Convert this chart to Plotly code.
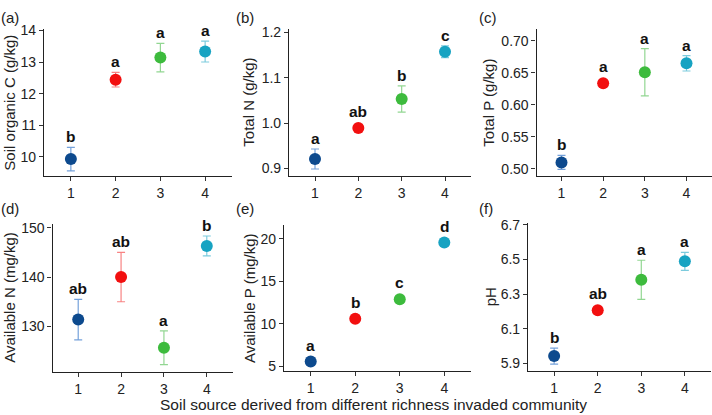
import plotly.graph_objects as go

# ---------------- data ----------------
groups = ["1", "2", "3", "4"]
group_x = [1, 2, 3, 4]

soc_mean = [9.93, 12.44, 13.14, 13.33]
soc_se = [0.37, 0.23, 0.45, 0.33]
soc_letters = ["b", "a", "a", "a"]

tn_mean = [0.921, 0.989, 1.053, 1.157]
tn_se = [0.022, 0.003, 0.029, 0.013]
tn_letters = ["a", "ab", "b", "c"]

tp_mean = [0.510, 0.634, 0.651, 0.665]
tp_se = [0.011, 0.003, 0.037, 0.012]
tp_letters = ["b", "a", "a", "a"]

an_mean = [131.4, 140.0, 125.7, 146.3]
an_se = [4.1, 5.0, 3.4, 2.0]
an_letters = ["ab", "ab", "a", "b"]

ap_mean = [5.57, 10.6, 12.9, 19.55]
ap_se = [0.2, 0.2, 0.2, 0.2]
ap_letters = ["a", "b", "c", "d"]

ph_mean = [5.943, 6.207, 6.383, 6.49]
ph_se = [0.046, 0.005, 0.113, 0.052]
ph_letters = ["b", "ab", "a", "a"]

soc_ticks = [10, 11, 12, 13, 14]
tn_ticks = [0.9, 1.0, 1.1, 1.2]
tp_ticks = [0.50, 0.55, 0.60, 0.65, 0.70]
an_ticks = [130, 140, 150]
ap_ticks = [5, 10, 15, 20]
ph_ticks = [5.9, 6.1, 6.3, 6.5, 6.7]

# ---------------- style ----------------
W, H = 712, 415
FONT = "Liberation Sans, Arial, Helvetica, sans-serif"
point_colors = ["#0D4A8E", "#F20F0F", "#3DBB3D", "#17A3C2"]
err_colors = ["rgba(70,130,205,0.75)", "rgba(245,90,90,0.75)",
              "rgba(110,200,110,0.75)", "rgba(80,185,210,0.75)"]

panels = [
    dict(tag="(a)", title="Soil organic C (g/kg)", mean=soc_mean, se=soc_se, letters=soc_letters,
         ticks=soc_ticks, fmt="{:.0f}", yr=[9.4, 14.03], px=[44, 232], py=[23, 173], tx=10, lab=(10, 11)),
    dict(tag="(b)", title="Total N (g/kg)", mean=tn_mean, se=tn_se, letters=tn_letters,
         ticks=tn_ticks, fmt="{:.1f}", yr=[0.884, 1.206], px=[289, 471], py=[23, 173], tx=249, lab=(245, 11)),
    dict(tag="(c)", title="Total P (g/kg)", mean=tp_mean, se=tp_se, letters=tp_letters,
         ticks=tp_ticks, fmt="{:.2f}", yr=[0.489, 0.718], px=[536.5, 711.5], py=[23, 173], tx=489, lab=(488, 11)),
    dict(tag="(d)", title="Available N (mg/kg)", mean=an_mean, se=an_se, letters=an_letters,
         ticks=an_ticks, fmt="{:.0f}", yr=[120.8, 150.8], px=[52.5, 232.5], py=[222, 374], tx=10, lab=(10, 206)),
    dict(tag="(e)", title="Available P (mg/kg)", mean=ap_mean, se=ap_se, letters=ap_letters,
         ticks=ap_ticks, fmt="{:.0f}", yr=[4.43, 21.65], px=[284, 471], py=[223, 373.3], tx=250, lab=(245, 206)),
    dict(tag="(f)", title="pH", mean=ph_mean, se=ph_se, letters=ph_letters,
         ticks=ph_ticks, fmt="{:.1f}", yr=[5.855, 6.709], px=[528, 711], py=[221.7, 373.3], tx=490, lab=(486, 206)),
]

fig = go.Figure()
annotations = []
MARKER = 12

for i, p in enumerate(panels, start=1):
    xa = "x" if i == 1 else f"x{i}"
    ya = "y" if i == 1 else f"y{i}"
    xdom = [p["px"][0] / W, p["px"][1] / W]
    ydom = [1 - p["py"][1] / H, 1 - p["py"][0] / H]

    for g in range(4):
        fig.add_trace(go.Scatter(
            x=[group_x[g]], y=[p["mean"][g]], mode="markers",
            marker=dict(size=MARKER, color=point_colors[g], line=dict(width=0)),
            error_y=dict(type="data", array=[p["se"][g]], visible=True,
                         color=err_colors[g], thickness=1.2, width=4),
            xaxis=xa, yaxis=ya, showlegend=False, hoverinfo="skip"))

    axis_x = dict(domain=xdom, anchor=ya, range=[0.4, 4.6], tickvals=group_x, ticktext=groups,
                  showline=True, linecolor="#222", linewidth=1.2, ticks="outside", ticklen=4,
                  tickcolor="#333", tickwidth=1, showgrid=False, zeroline=False,
                  tickfont=dict(family=FONT, size=14, color="#222"), fixedrange=True)
    axis_y = dict(domain=ydom, anchor=xa, range=p["yr"], tickvals=p["ticks"],
                  ticktext=[p["fmt"].format(t) for t in p["ticks"]],
                  showline=True, linecolor="#222", linewidth=1.2, ticks="outside", ticklen=4,
                  tickcolor="#333", tickwidth=1, showgrid=False, zeroline=False,
                  tickfont=dict(family=FONT, size=14, color="#222"), fixedrange=True)
    fig.update_layout(**{("xaxis" if i == 1 else f"xaxis{i}"): axis_x,
                         ("yaxis" if i == 1 else f"yaxis{i}"): axis_y})

    # letters above error bars / markers
    plot_h = p["py"][1] - p["py"][0]
    units_per_px = (p["yr"][1] - p["yr"][0]) / plot_h
    for g in range(4):
        top = max(p["mean"][g] + p["se"][g], p["mean"][g] + (MARKER / 2) * units_per_px)
        annotations.append(dict(x=group_x[g], y=top, xref=xa, yref=ya, text=p["letters"][g],
                                showarrow=False, yanchor="bottom", yshift=0,
                                font=dict(family=FONT, size=15.5, color="#111", weight="bold")))

    # y axis title
    annotations.append(dict(x=p["tx"] / W, y=1 - (p["py"][0] + p["py"][1]) / 2 / H,
                            xref="paper", yref="paper", text=p["title"], textangle=-90,
                            showarrow=False, xanchor="center", yanchor="middle",
                            font=dict(family=FONT, size=15, color="#222")))
    # panel tag
    annotations.append(dict(x=p["lab"][0] / W, y=1 - p["lab"][1] / H, xref="paper", yref="paper",
                            text=p["tag"], showarrow=False, xanchor="center", yanchor="middle",
                            font=dict(family=FONT, size=15, color="#222")))

annotations.append(dict(x=373.5 / W, y=1 - 407 / H, xref="paper", yref="paper",
                        text="Soil source derived from different richness invaded community",
                        showarrow=False, xanchor="center", yanchor="middle",
                        font=dict(family=FONT, size=15.5, color="#222")))

fig.update_layout(width=W, height=H, margin=dict(l=0, r=0, t=0, b=0),
                  paper_bgcolor="white", plot_bgcolor="white",
                  annotations=annotations, showlegend=False)

fig.write_html("out.html", config={"displayModeBar": False},
               post_script="document.body.style.margin='0';document.body.style.padding='0';")
